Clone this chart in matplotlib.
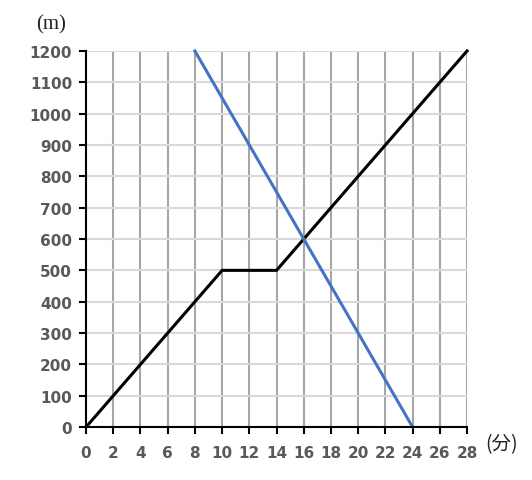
import numpy as np
import matplotlib.pyplot as plt

# data
walk_x = [0, 10, 14, 28]
walk_y = [0, 500, 500, 1200]
bike_x = [8, 24]
bike_y = [1200, 0]
x_ticks = list(range(0, 29, 2))
y_ticks = list(range(0, 1201, 100))

plt.rcParams['font.family'] = ['DejaVu Sans', 'Noto Sans CJK JP']

fig = plt.figure(figsize=(5.32, 4.81), dpi=100)
ax = fig.add_axes([0.1617, 0.110, 0.7162, 0.782])

ax.set_xlim(0, 28)
ax.set_ylim(0, 1200)
ax.set_xticks(x_ticks)
ax.set_yticks(y_ticks)

for x in x_ticks[1:]:
    ax.axvline(x, color='#a6a6a6', linewidth=1.5, zorder=1)
for y in y_ticks[1:]:
    ax.axhline(y, color='#d9d9d9', linewidth=1.5, zorder=1)

ax.plot(walk_x, walk_y, color='black', linewidth=2.2, zorder=3, clip_on=False)
ax.plot(bike_x, bike_y, color='#4472c4', linewidth=2.2, zorder=3, clip_on=False)

for s in ['top', 'right']:
    ax.spines[s].set_visible(False)
ax.spines['left'].set_linewidth(1.5)
ax.spines['bottom'].set_linewidth(1.5)
ax.spines['left'].set_zorder(4)
ax.spines['bottom'].set_zorder(4)

ax.tick_params(axis='both', direction='out', length=5, width=1.5, color='black',
               labelcolor='#595959', labelsize=11)
for lab in ax.get_xticklabels() + ax.get_yticklabels():
    lab.set_fontweight('bold')
ax.tick_params(axis='x', pad=8)
ax.tick_params(axis='y', pad=5)

# axis unit labels
fig.text(0.096, 0.948, '(m)', family=['Liberation Serif'],
         fontsize=15, ha='center', va='center', color='#222222')
fig.text(0.942, 0.076, '(分)', family=['Noto Sans CJK JP'],
         fontsize=14, ha='center', va='center', color='#222222')

fig.savefig('out.png', dpi=100)
